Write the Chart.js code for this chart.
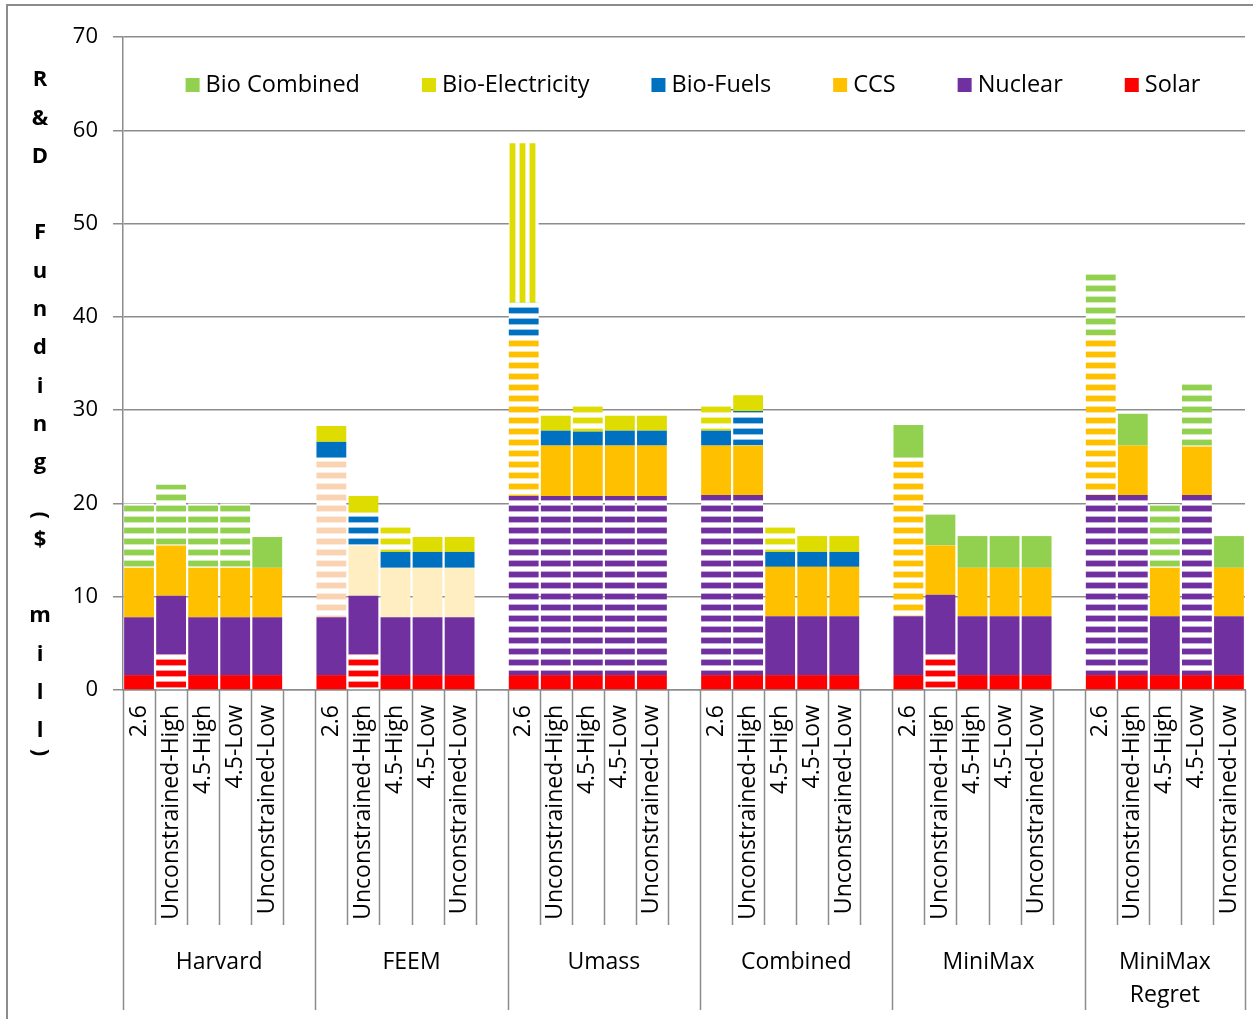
<!DOCTYPE html>
<html>
<head>
<meta charset="utf-8">
<script src="https://cdn.jsdelivr.net/npm/chart.js@4.4.1/dist/chart.umd.min.js"></script>
<style>
  html, body { margin: 0; padding: 0; background: #fff; }
  #wrap { width: 1253px; height: 1019px; position: relative; }
</style>
</head>
<body>
<div id="wrap"><canvas id="fundChart"></canvas></div>
<script>
const groups = ["Harvard", "FEEM", "Umass", "Combined", "MiniMax", "MiniMax Regret"];
const scenarios = ["2.6", "Unconstrained-High", "4.5-High", "4.5-Low", "Unconstrained-Low"];
const yTicks = [0, 10, 20, 30, 40, 50, 60, 70];
const titleChars = ["R", "&", "D", "", "F", "u", "n", "d", "i", "n", "g", "(", "$", "", "m", "i", "l", "l", ")"];

// values, 5 scenarios per group, groups in order above
const solar       = [1.6, 3.8, 1.6, 1.6, 1.6,  1.6, 3.8, 1.6, 1.6, 1.6,  1.6, 1.6, 1.6, 1.6, 1.6,  1.6, 1.6, 1.6, 1.6, 1.6,  1.6, 3.8, 1.6, 1.6, 1.6,  1.6, 1.6, 1.6, 1.6, 1.6];
const nuclear     = [6.2, 6.3, 6.2, 6.2, 6.2,  6.2, 6.3, 6.2, 6.2, 6.2,  19.2, 19.2, 19.2, 19.2, 19.2,  19.3, 19.3, 6.3, 6.3, 6.3,  6.3, 6.4, 6.3, 6.3, 6.3,  19.3, 19.3, 6.3, 19.3, 6.3];
const ccs         = [5.3, 5.4, 5.3, 5.3, 5.3,  17.1, 5.4, 5.3, 5.3, 5.3,  16.9, 5.4, 5.4, 5.4, 5.4,  5.3, 5.3, 5.3, 5.3, 5.3,  17.0, 5.3, 5.2, 5.2, 5.2,  17.1, 5.3, 5.2, 5.2, 5.2];
const bioFuels    = [null, null, null, null, null,  1.7, 3.5, 1.7, 1.7, 1.7,  3.8, 1.6, 1.5, 1.6, 1.6,  1.6, 3.7, 1.6, 1.6, 1.6,  null, null, null, null, null,  null, null, null, null, null];
const bioElec     = [null, null, null, null, null,  1.7, 1.8, 2.7, 1.6, 1.6,  17.1, 1.6, 3.1, 1.6, 1.6,  3.0, 1.7, 2.8, 1.7, 1.7,  null, null, null, null, null,  null, null, null, null, null];
const bioCombined = [6.9, 6.5, 6.9, 6.9, 3.3,  null, null, null, null, null,  null, null, null, null, null,  null, null, null, null, null,  3.5, 3.3, 3.4, 3.4, 3.4,  6.6, 3.4, 6.8, 6.8, 3.4];

// fill per bar: s solid, h striped, v vertical stripes, p pale, q pale striped
const solarFill    = "shsss shsss sssss sssss shsss sssss";
const nuclearFill  = "sssss sssss hhhhh hhsss sssss hhshs";
const ccsFill      = "sssss qpppp hssss sssss hssss hssss";
const bioFuelFill  = "sssss shsss hssss shsss sssss sssss";
const bioElecFill  = "sssss sshss vshss hshss sssss sssss";
const bioCombFill  = "hhhhs sssss sssss sssss sssss hshhs";

const FONT = "'Open Sans', sans-serif";
const GRID = "#8c8c8c";

function spread(values) {
  const out = [];
  groups.forEach((g, gi) => {
    scenarios.forEach((s, si) => out.push(values[gi * scenarios.length + si]));
    if (gi < groups.length - 1) out.push(null);
  });
  return out;
}

const labels = spread(groups.flatMap(() => scenarios)).map(l => l || "");

function stripes(color, vertical) {
  const c = document.createElement("canvas");
  const n = vertical ? 10 : 11;
  c.width = vertical ? n : 4;
  c.height = vertical ? 4 : n;
  const g = c.getContext("2d");
  g.fillStyle = "#fff";
  g.fillRect(0, 0, c.width, c.height);
  const band = (i, a) => {
    g.globalAlpha = a;
    g.fillStyle = color;
    if (vertical) g.fillRect(i, 0, 1, c.height);
    else g.fillRect(0, i, c.width, 1);
  };
  if (vertical) { [0, 1, 2, 3, 4].forEach(i => band(i, 1)); band(5, 0.4); band(9, 0.4); }
  else { [0, 1, 2, 3, 4].forEach(i => band(i, 1)); band(5, 0.4); band(10, 0.4); }
  return g.createPattern(c, "repeat");
}

function makeSet(label, values, fills, color, pale) {
  const fill = spread(fills.replace(/ /g, "").split(""));
  const pats = { s: color, h: stripes(color, false), v: stripes(color, true), p: pale || color, q: stripes(pale || color, false) };
  return {
    label,
    data: spread(values),
    baseColor: color,
    backgroundColor: ctx => (ctx.type === "data" ? pats[fill[ctx.dataIndex]] : color) || color,
    borderWidth: 0,
    barPercentage: 0.93,
    categoryPercentage: 1,
  };
}

const datasets = [
  makeSet("Solar", solar, solarFill, "#ff0000"),
  makeSet("Nuclear", nuclear, nuclearFill, "#7030a0"),
  makeSet("CCS", ccs, ccsFill, "#ffc000", "#feeec2"),
  makeSet("Bio-Fuels", bioFuels, bioFuelFill, "#0070c0"),
  makeSet("Bio-Electricity", bioElec, bioElecFill, "#dedc00"),
  makeSet("Bio Combined", bioCombined, bioCombFill, "#92d050"),
];
// FEEM 2.6 CCS is a peach stripe
(function () {
  const ds = datasets[2];
  const peach = stripes("#fad3b2", false);
  const old = ds.backgroundColor;
  ds.backgroundColor = ctx => (ctx.type === "data" && ctx.dataIndex === 6 ? peach : old(ctx));
})();

const decor = {
  id: "decor",
  afterDraw(chart) {
    const { ctx, chartArea: a } = chart;
    const n = labels.length;
    const w = (a.right - a.left) / n;
    ctx.save();
    // category separators
    ctx.strokeStyle = GRID;
    ctx.lineWidth = 1.5;
    for (let k = 0; k <= n; k++) {
      const px = Math.round(a.left + k * w) + 0.5;
      const long = k % 6 === 0 || k === n;
      ctx.beginPath();
      ctx.moveTo(px, a.bottom);
      ctx.lineTo(px, a.bottom + (long ? 320 : 235));
      ctx.stroke();
    }
    // group names
    ctx.fillStyle = "#000";
    ctx.font = "23px " + FONT;
    ctx.textAlign = "center";
    ctx.textBaseline = "middle";
    groups.forEach((g, gi) => {
      const l = a.left + gi * 6 * w;
      const r = Math.min(a.right, l + 6 * w);
      const cx = (l + r) / 2;
      const lines = g === "MiniMax Regret" ? ["MiniMax", "Regret"] : [g];
      lines.forEach((t, li) => ctx.fillText(t, cx, a.bottom + 272 + li * 33));
    });
    // legend
    ctx.font = "23.5px " + FONT;
    const items = chart.data.datasets.slice().reverse();
    const box = 14, gap = 6, space = 62;
    const widths = items.map(d => box + gap + ctx.measureText(d.label).width);
    const total = widths.reduce((s, v) => s + v, 0) + space * (items.length - 1);
    let lx = 693 - total / 2;
    const ly = 85;
    ctx.textAlign = "left";
    items.forEach((d, i) => {
      ctx.fillStyle = d.baseColor;
      ctx.fillRect(lx, ly - box / 2, box, box);
      ctx.fillStyle = "#000";
      ctx.fillText(d.label, lx + box + gap, ly);
      lx += widths[i] + space;
    });
    // stacked y title
    ctx.font = "bold 22px " + FONT;
    ctx.textAlign = "center";
    titleChars.forEach((c, i) => {
      const cy = 80 + i * 38.3;
      if (c === "(" || c === ")") {
        ctx.save();
        ctx.translate(40, cy + (c === "(" ? 14 : -17));
        ctx.rotate(Math.PI / 2);
        ctx.fillText(c, 0, 0);
        ctx.restore();
      } else {
        ctx.fillText(c, 40, cy);
      }
    });
    // outer frame
    ctx.strokeStyle = GRID;
    ctx.lineWidth = 2;
    ctx.strokeRect(7, 5, 1400, 1200);
    ctx.restore();
  },
};

new Chart(document.getElementById("fundChart"), {
  type: "bar",
  data: { labels, datasets },
  plugins: [decor],
  options: {
    responsive: true,
    maintainAspectRatio: false,
    animation: false,
    layout: { padding: { top: 37, right: 8, left: 0, bottom: 0 } },
    plugins: { legend: { display: false }, tooltip: { enabled: false } },
    scales: {
      x: {
        stacked: true,
        grid: { display: false, drawTicks: false },
        border: { display: true, color: GRID, width: 1.5 },
        ticks: {
          autoSkip: false,
          minRotation: 90,
          maxRotation: 90,
          padding: 15,
          color: "#000",
          font: { family: FONT, size: 23 },
        },
        afterFit: s => { s.height = 329; s.paddingLeft = 0; s.paddingRight = 0; },
      },
      y: {
        stacked: true,
        min: yTicks[0],
        max: yTicks[yTicks.length - 1],
        afterBuildTicks: s => { s.ticks = yTicks.map(v => ({ value: v })); },
        grid: { color: GRID, lineWidth: 1.5, tickLength: 10 },
        border: { color: GRID, width: 1.5 },
        ticks: { padding: 15, color: "#000", font: { family: FONT, size: 22 } },
        afterFit: s => { s.width = 123; s.paddingTop = 0; s.paddingBottom = 0; },
      },
    },
  },
});
</script>
</body>
</html>
